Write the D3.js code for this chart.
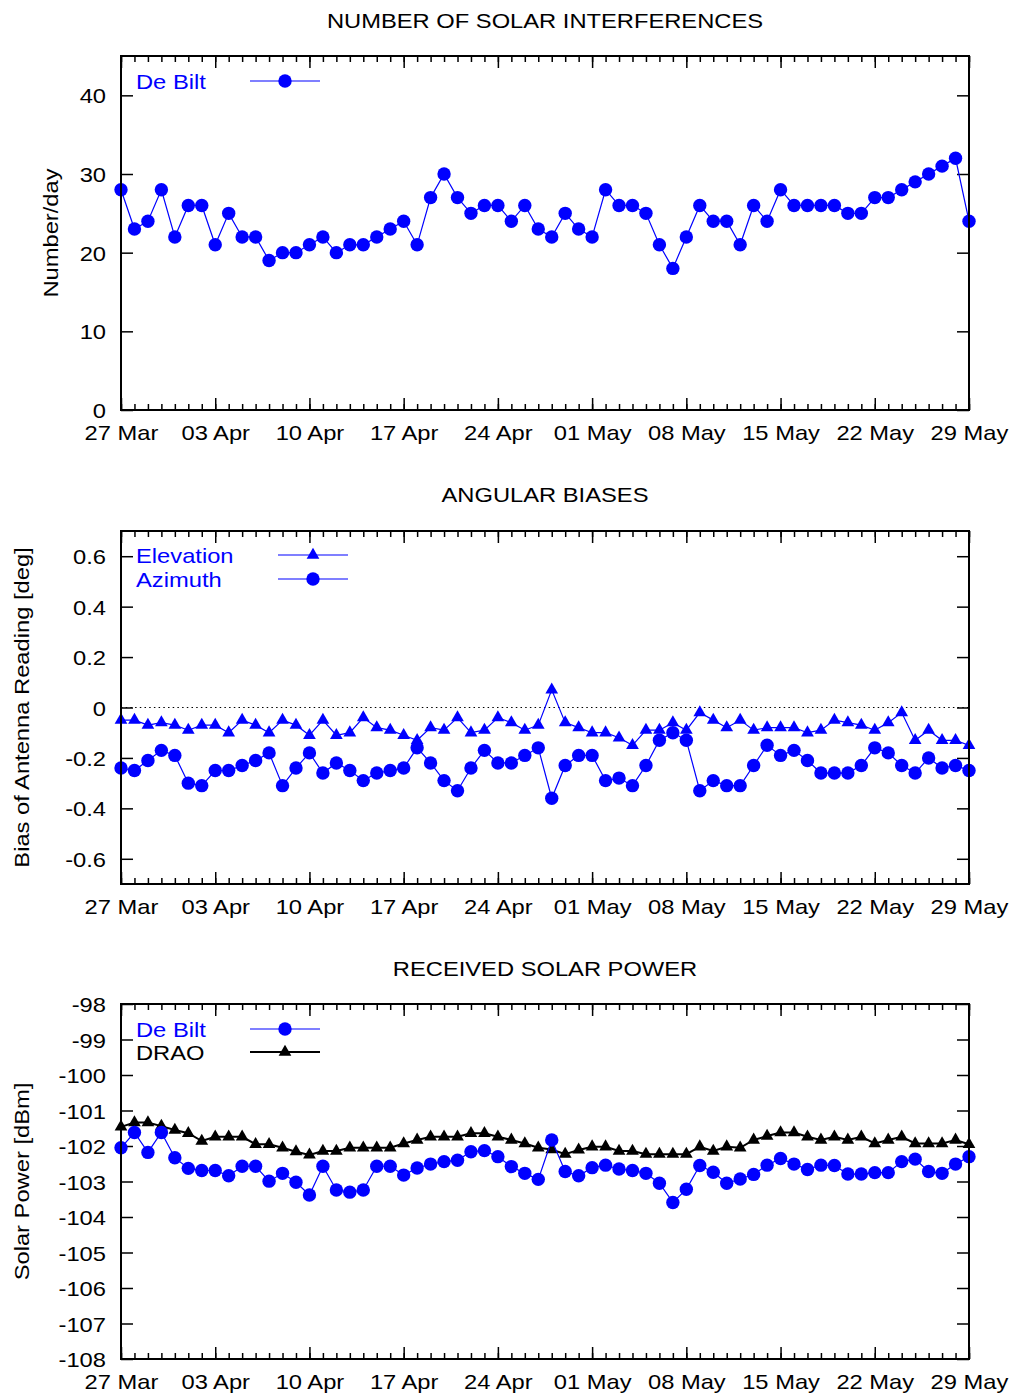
<!DOCTYPE html>
<html>
<head>
<meta charset="utf-8">
<script src="https://cdn.jsdelivr.net/npm/d3@7"></script>
<style>
  body { margin: 0; background: #fff; }
  text { font-family: "Liberation Sans", Arial, sans-serif; }
</style>
</head>
<body>
<svg id="chart"></svg>
<script>
// daily values, 27 Mar .. 29 May
var firstDay = new Date(Date.UTC(2014, 2, 27));
var lastDay = new Date(Date.UTC(2014, 4, 29));
var days = d3.utcDay.range(firstDay, d3.utcDay.offset(lastDay, 1));

var interferences = [28,23,24,28,22,26,26,21,25,22, 22,19,20,20,21,22,20,21,21,22,
  23,24,21,27,30,27,25,26,26,24, 26,23,22,25,23,22,28,26,26,25,
  21,18,22,26,24,24,21,26,24,28, 26,26,26,26,25,25,27,27,28,29, 30,31,32,24];

var elevation = [-0.05,-0.05,-0.07,-0.06,-0.07,-0.09,-0.07,-0.07,-0.10,-0.05,
  -0.07,-0.10,-0.05,-0.07,-0.11,-0.05,-0.11,-0.10,-0.04,-0.08,
  -0.09,-0.11,-0.13,-0.08,-0.09,-0.04,-0.10,-0.09,-0.04,-0.06,
  -0.09,-0.07,0.07,-0.06,-0.08,-0.10,-0.10,-0.12,-0.15,-0.09,
  -0.09,-0.06,-0.09,-0.02,-0.05,-0.08,-0.05,-0.09,-0.08,-0.08,
  -0.08,-0.10,-0.09,-0.05,-0.06,-0.07,-0.09,-0.06,-0.02,-0.13,
  -0.09,-0.13,-0.13,-0.15];

var azimuth = [-0.24,-0.25,-0.21,-0.17,-0.19,-0.30,-0.31,-0.25,-0.25,-0.23,
  -0.21,-0.18,-0.31,-0.24,-0.18,-0.26,-0.22,-0.25,-0.29,-0.26,
  -0.25,-0.24,-0.16,-0.22,-0.29,-0.33,-0.24,-0.17,-0.22,-0.22,
  -0.19,-0.16,-0.36,-0.23,-0.19,-0.19,-0.29,-0.28,-0.31,-0.23,
  -0.13,-0.10,-0.13,-0.33,-0.29,-0.31,-0.31,-0.23,-0.15,-0.19,
  -0.17,-0.21,-0.26,-0.26,-0.26,-0.23,-0.16,-0.18,-0.23,-0.26,
  -0.20,-0.24,-0.23,-0.25];

var deBiltPower = [-102.05,-101.62,-102.18,-101.62,-102.33,-102.63,-102.69,-102.69,-102.84,-102.57,
  -102.57,-102.99,-102.77,-103.02,-103.38,-102.57,-103.24,-103.30,-103.24,-102.57,
  -102.57,-102.82,-102.62,-102.51,-102.44,-102.40,-102.16,-102.13,-102.30,-102.58,
  -102.77,-102.94,-101.83,-102.72,-102.84,-102.61,-102.54,-102.65,-102.69,-102.77,
  -103.05,-103.59,-103.22,-102.55,-102.74,-103.05,-102.93,-102.80,-102.54,-102.35,
  -102.51,-102.66,-102.54,-102.55,-102.79,-102.79,-102.75,-102.75,-102.44,-102.37,
  -102.72,-102.77,-102.51,-102.30];

var draoPower = [-101.46,-101.34,-101.34,-101.44,-101.55,-101.64,-101.86,-101.74,-101.74,-101.74,
  -101.95,-101.95,-102.05,-102.16,-102.25,-102.14,-102.14,-102.05,-102.05,-102.05,
  -102.05,-101.93,-101.83,-101.74,-101.74,-101.74,-101.64,-101.64,-101.74,-101.83,
  -101.93,-102.05,-102.10,-102.23,-102.11,-102.02,-102.02,-102.14,-102.14,-102.23,
  -102.23,-102.23,-102.23,-102.02,-102.14,-102.02,-102.05,-101.83,-101.72,-101.62,
  -101.62,-101.74,-101.83,-101.74,-101.83,-101.74,-101.93,-101.83,-101.74,-101.93,
  -101.93,-101.93,-101.83,-101.95];

var countTicks = [0, 10, 20, 30, 40];
var biasTicks = [-0.6, -0.4, -0.2, 0, 0.2, 0.4, 0.6];
var powerTicks = [-108, -107, -106, -105, -104, -103, -102, -101, -100, -99, -98];

var width = 1012, height = 1398;
var left = 121, right = 969;
var fontSize = 21, stretch = 1.13;
var blue = "#0000ff";

var svg = d3.select("#chart").attr("width", width).attr("height", height);

var x = d3.scaleUtc().domain([firstDay, lastDay]).range([left, right]);
var majorDays = d3.utcDay.range(firstDay, d3.utcDay.offset(lastDay, 1), 7);

function label(g, px, py, str, anchor, color, rot) {
  return g.append("text")
    .attr("transform", "translate(" + px + "," + py + ")" + (rot ? " rotate(-90)" : "") + " scale(" + stretch + ",1)")
    .attr("text-anchor", anchor)
    .attr("font-size", fontSize)
    .attr("fill", color || "#000")
    .text(str);
}

function marker(sel, shape) {
  if (shape === "circle") {
    return sel.append("circle").attr("r", 6.7);
  }
  return sel.append("path").attr("d", d3.symbol(d3.symbolTriangle).size(70));
}

function drawPanel(p) {
  var g = svg.append("g");
  var y = d3.scaleLinear().domain(p.domain).range([p.bottom, p.top]);

  label(g, (left + right) / 2, p.titleY, p.title, "middle");
  label(g, p.ylabelX, (p.top + p.bottom) / 2, p.ylabel, "middle", "#000", true);

  // minor day ticks, bottom and top
  g.append("g").attr("transform", "translate(0," + p.bottom + ")")
    .call(d3.axisBottom(x).ticks(d3.utcDay.every(1)).tickSize(-6).tickFormat(""));
  g.append("g").attr("transform", "translate(0," + p.top + ")")
    .call(d3.axisTop(x).ticks(d3.utcDay.every(1)).tickSize(-6).tickFormat(""));

  var xb = g.append("g").attr("transform", "translate(0," + p.bottom + ")")
    .call(d3.axisBottom(x).tickValues(majorDays).tickSize(-12).tickPadding(15)
      .tickFormat(d3.utcFormat("%d %b")));
  g.append("g").attr("transform", "translate(0," + p.top + ")")
    .call(d3.axisTop(x).tickValues(majorDays).tickSize(-12).tickFormat(""));

  var yl = g.append("g").attr("transform", "translate(" + left + ",0)")
    .call(d3.axisLeft(y).tickValues(p.ticks).tickSize(-12).tickPadding(15).tickFormat(p.fmt));
  g.append("g").attr("transform", "translate(" + right + ",0)")
    .call(d3.axisRight(y).tickValues(p.ticks).tickSize(-12).tickFormat(""));

  g.selectAll(".domain").remove();
  g.selectAll(".tick line").attr("stroke", "#000").attr("stroke-width", 1.5);
  xb.selectAll("text").attr("font-size", fontSize).attr("font-family", null)
    .attr("transform", "scale(" + stretch + ",1)").attr("fill", "#000");
  yl.selectAll("text").attr("font-size", fontSize).attr("font-family", null)
    .attr("x", -15 / stretch).attr("dy", "0.36em")
    .attr("transform", "scale(" + stretch + ",1)").attr("fill", "#000");

  if (p.zeroLine) {
    g.append("line")
      .attr("x1", left).attr("x2", right)
      .attr("y1", y(0)).attr("y2", y(0))
      .attr("stroke", "#000").attr("stroke-width", 1)
      .attr("stroke-dasharray", "1.5,3.2");
  }

  p.series.forEach(function(s) {
    var line = d3.line().x(function(d, i) { return x(days[i]); }).y(function(d) { return y(d); });
    g.append("path").datum(s.values)
      .attr("d", line)
      .attr("fill", "none")
      .attr("stroke", s.color)
      .attr("stroke-width", s.lineWidth);
    g.append("g").selectAll("g")
      .data(s.values)
      .enter()
      .append("g")
      .attr("transform", function(d, i) { return "translate(" + x(days[i]) + "," + y(d) + ")"; })
      .each(function() { marker(d3.select(this), s.shape).attr("fill", s.color); });
  });

  // legend rows
  p.series.forEach(function(s) {
    var ly = p.legendY[s.row];
    label(g, 136, ly + 8, s.name, "start", s.textColor);
    g.append("line")
      .attr("x1", p.legendX - 35).attr("x2", p.legendX + 35)
      .attr("y1", ly).attr("y2", ly)
      .attr("stroke", s.color).attr("stroke-width", s.lineWidth);
    marker(g.append("g").attr("transform", "translate(" + p.legendX + "," + ly + ")"), s.shape)
      .attr("fill", s.color);
  });

  g.append("rect")
    .attr("x", left).attr("y", p.top)
    .attr("width", right - left).attr("height", p.bottom - p.top)
    .attr("fill", "none").attr("stroke", "#000").attr("stroke-width", 2);
}

drawPanel({
  top: 56, bottom: 410, domain: [0, 45], ticks: countTicks, fmt: d3.format("d"),
  title: "NUMBER OF SOLAR INTERFERENCES", titleY: 28,
  ylabel: "Number/day", ylabelX: 58,
  legendX: 285, legendY: [81],
  series: [
    { name: "De Bilt", values: interferences, color: blue, textColor: blue, shape: "circle", lineWidth: 1.2, row: 0 }
  ]
});

drawPanel({
  top: 531, bottom: 884, domain: [-0.7, 0.7], ticks: biasTicks,
  fmt: function(d) { return d === 0 ? "0" : d3.format(".1f")(d).replace("−", "-"); },
  title: "ANGULAR BIASES", titleY: 502,
  ylabel: "Bias of Antenna Reading [deg]", ylabelX: 29,
  legendX: 313, legendY: [555, 579], zeroLine: true,
  series: [
    { name: "Elevation", values: elevation, color: blue, textColor: blue, shape: "triangle", lineWidth: 1.2, row: 0 },
    { name: "Azimuth", values: azimuth, color: blue, textColor: blue, shape: "circle", lineWidth: 1.2, row: 1 }
  ]
});

drawPanel({
  top: 1004, bottom: 1359, domain: [-108, -98], ticks: powerTicks,
  fmt: function(d) { return d3.format("d")(d).replace("−", "-"); },
  title: "RECEIVED SOLAR POWER", titleY: 976,
  ylabel: "Solar Power [dBm]", ylabelX: 29,
  legendX: 285, legendY: [1029, 1052],
  series: [
    { name: "DRAO", values: draoPower, color: "#000", textColor: "#000", shape: "triangle", lineWidth: 2, row: 1 },
    { name: "De Bilt", values: deBiltPower, color: blue, textColor: blue, shape: "circle", lineWidth: 1.2, row: 0 }
  ]
});
</script>
</body>
</html>
